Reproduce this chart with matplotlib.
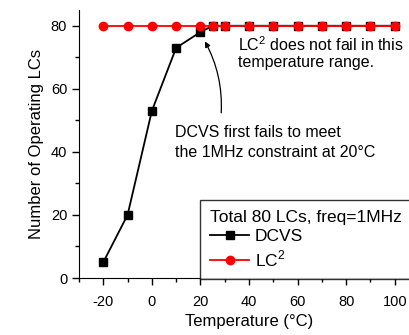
import numpy as np
import matplotlib
matplotlib.use("Agg")
import matplotlib.pyplot as plt
from matplotlib.ticker import MultipleLocator

plt.rcParams['font.family'] = ['Liberation Sans', 'DejaVu Sans']
plt.rcParams['mathtext.fontset'] = 'custom'
plt.rcParams['mathtext.rm'] = 'Liberation Sans'
plt.rcParams['axes.unicode_minus'] = False

# data
temp_dcvs = [-20, -10, 0, 10, 20, 25, 30, 40, 50, 60, 70, 80, 90, 100]
lcs_dcvs = [5, 20, 53, 73, 78, 80, 80, 80, 80, 80, 80, 80, 80, 80]
temp_lc2 = [-20, -10, 0, 10, 20, 25, 30, 40, 50, 60, 70, 80, 90, 100]
lcs_lc2 = [80] * len(temp_lc2)

W, H = 409, 335
fig = plt.figure(figsize=(W / 100, H / 100), dpi=100)
ax = fig.add_axes([79 / W, 1 - 278 / H, (419 - 79) / W, (278 - 10) / H])

ax.plot(temp_dcvs, lcs_dcvs, color='black', marker='s', markersize=6, lw=1.3,
        label='DCVS', zorder=3)
ax.plot(temp_lc2, lcs_lc2, color='red', marker='o', markersize=6, lw=1.3,
        label='LC$^2$', zorder=4)

ax.set_xlim(-30, 110)
ax.set_ylim(0, 85)
ax.spines['top'].set_visible(False)
ax.spines['right'].set_visible(False)
ax.xaxis.set_major_locator(MultipleLocator(20))
ax.xaxis.set_minor_locator(MultipleLocator(10))
ax.yaxis.set_major_locator(MultipleLocator(20))
ax.yaxis.set_minor_locator(MultipleLocator(10))
ax.set_xticks([-20, 0, 20, 40, 60, 80, 100])
ax.tick_params(which='major', direction='out', length=5, width=1, labelsize=10.5)
ax.tick_params(which='major', axis='x', pad=7)
ax.tick_params(which='minor', direction='out', length=3, width=1)

ax.set_xlabel('Temperature (°C)', fontsize=12, labelpad=3.5)
ax.set_ylabel('Number of Operating LCs', fontsize=12, labelpad=5)

ax.text(35.5, 71.5, 'LC$^2$ does not fail in this\ntemperature range.',
        fontsize=11.5, va='center', ha='left', linespacing=1.15)
ax.text(9.5, 43, 'DCVS first fails to meet\nthe 1MHz constraint at 20°C',
        fontsize=11.5, va='center', ha='left', linespacing=1.45)
ax.annotate('', xy=(21.3, 75.8), xytext=(28.5, 51.5),
            arrowprops=dict(arrowstyle='-|>', color='black', lw=0.9,
                            connectionstyle='arc3,rad=0.15', mutation_scale=8))

leg = ax.legend(title='Total 80 LCs, freq=1MHz', loc='upper left',
                bbox_to_anchor=(200 / W, 1 - 200 / H), bbox_transform=fig.transFigure,
                fontsize=12.5, title_fontsize=12.5, frameon=True, fancybox=False,
                handlelength=2.3, handletextpad=0.3, labelspacing=0.25,
                borderpad=0.55, borderaxespad=0)
leg._legend_box.align = 'left'
leg.get_frame().set_edgecolor('black')
leg.get_frame().set_linewidth(1)

fig.savefig('out.png', dpi=100)
